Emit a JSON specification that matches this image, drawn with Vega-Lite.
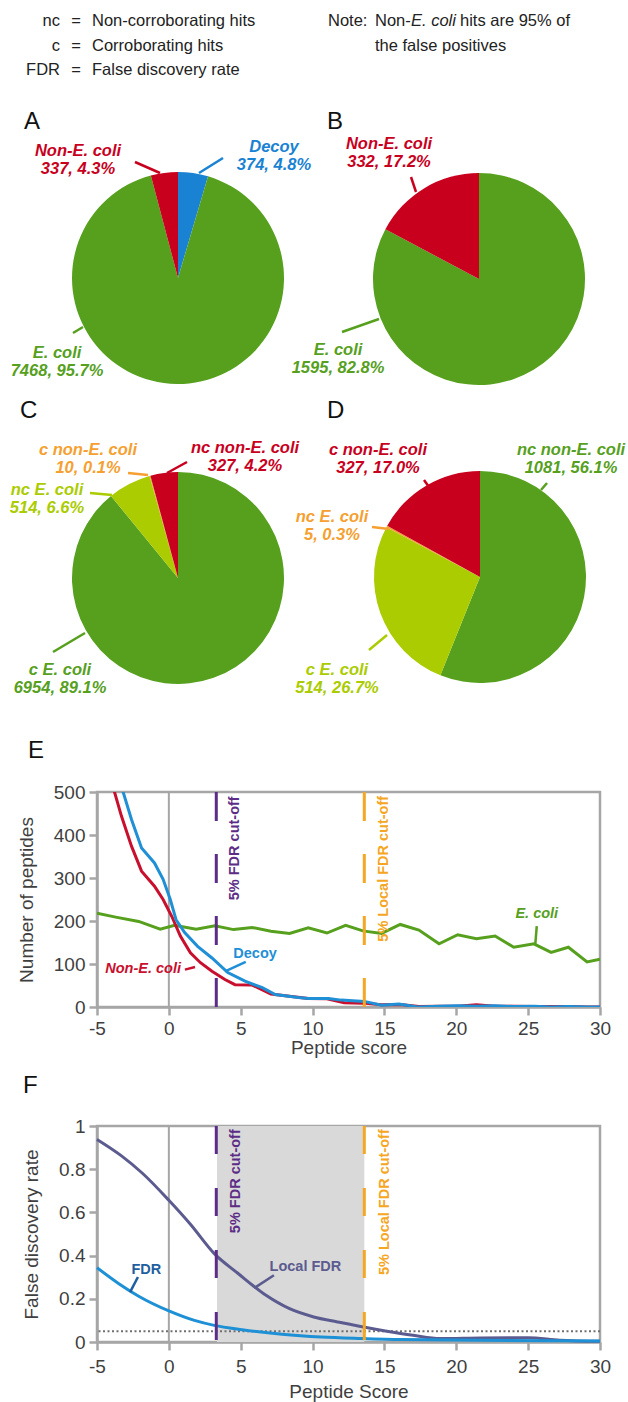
{
"$schema": "https://vega.github.io/schema/vega-lite/v6.json",
"autosize": {"type": "none"},
"padding": {"left": 97, "top": 0, "right": 531, "bottom": 1402},
"bounds": "flush",
"spacing": 119,
"resolve": {"scale": {"color": "independent"}},
"datasets": {
 "slices": [
  {"panel":"A","c":0,"ord":1,"key":"A Decoy","n":374,"label":"Decoy\n374, 4.8%","lk":25,"s":39,"e":40},
  {"panel":"A","c":0,"ord":2,"key":"A E. coli","n":7468,"label":"E. coli\n7468, 95.7%","lk":26,"s":41,"e":42},
  {"panel":"A","c":0,"ord":3,"key":"A Non-E. coli","n":337,"label":"Non-E. coli\n337, 4.3%","lk":24,"s":37,"e":38},
  {"panel":"B","c":1,"ord":1,"key":"B E. coli","n":1595,"label":"E. coli\n1595, 82.8%","lk":28,"s":45,"e":46},
  {"panel":"B","c":1,"ord":2,"key":"B Non-E. coli","n":332,"label":"Non-E. coli\n332, 17.2%","lk":27,"s":43,"e":44},
  {"panel":"C","c":2,"ord":1,"key":"C c E. coli","n":6954,"label":"c E. coli\n6954, 89.1%","lk":32,"s":53,"e":54},
  {"panel":"C","c":2,"ord":2,"key":"C nc E. coli","n":514,"label":"nc E. coli\n514, 6.6%","lk":31,"s":51,"e":52},
  {"panel":"C","c":2,"ord":3,"key":"C c non-E. coli","n":10,"label":"c non-E. coli\n10, 0.1%","lk":29,"s":47,"e":48},
  {"panel":"C","c":2,"ord":4,"key":"C nc non-E. coli","n":327,"label":"nc non-E. coli\n327, 4.2%","lk":30,"s":49,"e":50},
  {"panel":"D","c":3,"ord":1,"key":"D nc non-E. coli","n":1081,"label":"nc non-E. coli\n1081, 56.1%","lk":34,"s":57,"e":58},
  {"panel":"D","c":3,"ord":2,"key":"D c E. coli","n":514,"label":"c E. coli\n514, 26.7%","lk":36,"s":61,"e":62},
  {"panel":"D","c":3,"ord":3,"key":"D nc E. coli","n":5,"label":"nc E. coli\n5, 0.3%","lk":35,"s":59,"e":60},
  {"panel":"D","c":3,"ord":4,"key":"D c non-E. coli","n":327,"label":"c non-E. coli\n327, 17.0%","lk":33,"s":55,"e":56}
 ],
 "header": [
  {"k":4,"t":"nc","role":"abbr"},{"k":5,"t":"c","role":"abbr"},{"k":6,"t":"FDR","role":"abbr"},
  {"k":7,"t":"=","role":"eq"},{"k":8,"t":"=","role":"eq"},{"k":9,"t":"=","role":"eq"},
  {"k":10,"t":"Non-corroborating hits","role":"def"},{"k":11,"t":"Corroborating hits","role":"def"},{"k":12,"t":"False discovery rate","role":"def"},
  {"k":13,"t":"Note:","role":"def"},{"k":14,"t":"Non-","role":"def"},{"k":15,"t":"E. coli","role":"ital"},{"k":16,"t":"hits are 95% of","role":"def"},{"k":17,"t":"the false positives","role":"def"},
  {"k":18,"t":"A","role":"letter"},{"k":19,"t":"B","role":"letter"},{"k":20,"t":"C","role":"letter"},{"k":21,"t":"D","role":"letter"},{"k":22,"t":"E","role":"letter"},{"k":23,"t":"F","role":"letter"}
 ],
 "epep": [
  {"series":"E. coli","score":-5,"count":218},{"series":"E. coli","score":-3.7,"count":209},{"series":"E. coli","score":-2.1,"count":199},{"series":"E. coli","score":-0.6,"count":181},{"series":"E. coli","score":0.4,"count":190},{"series":"E. coli","score":1.9,"count":181},{"series":"E. coli","score":3.2,"count":189},{"series":"E. coli","score":4.5,"count":180},{"series":"E. coli","score":5.8,"count":185},{"series":"E. coli","score":7.1,"count":176},{"series":"E. coli","score":8.4,"count":171},{"series":"E. coli","score":9.7,"count":184},{"series":"E. coli","score":11.0,"count":172},{"series":"E. coli","score":12.3,"count":190},{"series":"E. coli","score":13.5,"count":177},{"series":"E. coli","score":14.8,"count":171},{"series":"E. coli","score":16.1,"count":192},{"series":"E. coli","score":17.4,"count":179},{"series":"E. coli","score":18.8,"count":147},{"series":"E. coli","score":20.1,"count":168},{"series":"E. coli","score":21.4,"count":159},{"series":"E. coli","score":22.7,"count":165},{"series":"E. coli","score":24.0,"count":139},{"series":"E. coli","score":25.4,"count":147},{"series":"E. coli","score":26.6,"count":127},{"series":"E. coli","score":27.8,"count":139},{"series":"E. coli","score":29.1,"count":105},{"series":"E. coli","score":30,"count":111},
  {"series":"Non-E. coli","score":-5,"count":720},{"series":"Non-E. coli","score":-4.3,"count":590},{"series":"Non-E. coli","score":-3.8,"count":502},{"series":"Non-E. coli","score":-3.3,"count":444},{"series":"Non-E. coli","score":-2.6,"count":374},{"series":"Non-E. coli","score":-1.9,"count":316},{"series":"Non-E. coli","score":-1.0,"count":281},{"series":"Non-E. coli","score":-0.4,"count":250},{"series":"Non-E. coli","score":0.2,"count":211},{"series":"Non-E. coli","score":0.8,"count":165},{"series":"Non-E. coli","score":1.5,"count":126},{"series":"Non-E. coli","score":2.2,"count":103},{"series":"Non-E. coli","score":3.0,"count":83},{"series":"Non-E. coli","score":3.9,"count":64},{"series":"Non-E. coli","score":4.6,"count":52},{"series":"Non-E. coli","score":5.8,"count":51},{"series":"Non-E. coli","score":7.1,"count":30},{"series":"Non-E. coli","score":8.4,"count":25},{"series":"Non-E. coli","score":9.7,"count":20},{"series":"Non-E. coli","score":11.0,"count":19},{"series":"Non-E. coli","score":12.2,"count":10},{"series":"Non-E. coli","score":13.5,"count":9},{"series":"Non-E. coli","score":14.8,"count":5},{"series":"Non-E. coli","score":16.1,"count":6},{"series":"Non-E. coli","score":17.4,"count":1},{"series":"Non-E. coli","score":18.8,"count":2},{"series":"Non-E. coli","score":20.1,"count":2},{"series":"Non-E. coli","score":21.4,"count":5},{"series":"Non-E. coli","score":22.7,"count":2},{"series":"Non-E. coli","score":24.0,"count":2},{"series":"Non-E. coli","score":25.4,"count":1},{"series":"Non-E. coli","score":26.6,"count":1},{"series":"Non-E. coli","score":27.8,"count":1},{"series":"Non-E. coli","score":29.1,"count":0},{"series":"Non-E. coli","score":30,"count":0},
  {"series":"Decoy","score":-5,"count":760},{"series":"Decoy","score":-4,"count":590},{"series":"Decoy","score":-3.2,"count":502},{"series":"Decoy","score":-2.6,"count":436},{"series":"Decoy","score":-1.9,"count":370},{"series":"Decoy","score":-1.0,"count":335},{"series":"Decoy","score":-0.4,"count":297},{"series":"Decoy","score":0.1,"count":250},{"series":"Decoy","score":0.5,"count":203},{"series":"Decoy","score":1.1,"count":173},{"series":"Decoy","score":2.0,"count":141},{"series":"Decoy","score":3.0,"count":114},{"series":"Decoy","score":4.1,"count":80},{"series":"Decoy","score":5.3,"count":60},{"series":"Decoy","score":6.5,"count":45},{"series":"Decoy","score":7.4,"count":29},{"series":"Decoy","score":9.0,"count":22},{"series":"Decoy","score":9.7,"count":20},{"series":"Decoy","score":11.1,"count":20},{"series":"Decoy","score":12.0,"count":16},{"series":"Decoy","score":13.6,"count":13},{"series":"Decoy","score":14.8,"count":4},{"series":"Decoy","score":16.0,"count":7},{"series":"Decoy","score":17.3,"count":0},{"series":"Decoy","score":18.8,"count":2},{"series":"Decoy","score":20.1,"count":3},{"series":"Decoy","score":21.4,"count":2},{"series":"Decoy","score":22.7,"count":3},{"series":"Decoy","score":24.0,"count":1},{"series":"Decoy","score":25.4,"count":2},{"series":"Decoy","score":26.6,"count":0},{"series":"Decoy","score":27.8,"count":1},{"series":"Decoy","score":29.1,"count":0},{"series":"Decoy","score":30,"count":0}
 ],
 "ffdr": [
  {"series":"Local FDR","score":-5,"rate":0.938},{"series":"Local FDR","score":-3.34,"rate":0.864},{"series":"Local FDR","score":-1.82,"rate":0.78},{"series":"Local FDR","score":0,"rate":0.656},{"series":"Local FDR","score":1.5,"rate":0.545},{"series":"Local FDR","score":3.16,"rate":0.409},{"series":"Local FDR","score":4.82,"rate":0.317},{"series":"Local FDR","score":6.76,"rate":0.216},{"series":"Local FDR","score":8.4,"rate":0.154},{"series":"Local FDR","score":10.08,"rate":0.116},{"series":"Local FDR","score":11.74,"rate":0.093},{"series":"Local FDR","score":13.54,"rate":0.069},{"series":"Local FDR","score":15.06,"rate":0.051},{"series":"Local FDR","score":17.0,"rate":0.031},{"series":"Local FDR","score":18.9,"rate":0.016},{"series":"Local FDR","score":21.7,"rate":0.019},{"series":"Local FDR","score":25.0,"rate":0.02},{"series":"Local FDR","score":27.2,"rate":0.008},{"series":"Local FDR","score":30,"rate":0.003},
  {"series":"FDR","score":-5,"rate":0.344},{"series":"FDR","score":-3.48,"rate":0.27},{"series":"FDR","score":-2.1,"rate":0.212},{"series":"FDR","score":0,"rate":0.144},{"series":"FDR","score":1.78,"rate":0.1},{"series":"FDR","score":3.16,"rate":0.077},{"series":"FDR","score":5.1,"rate":0.057},{"series":"FDR","score":7.87,"rate":0.036},{"series":"FDR","score":10.6,"rate":0.023},{"series":"FDR","score":13.4,"rate":0.016},{"series":"FDR","score":16.2,"rate":0.011},{"series":"FDR","score":21.7,"rate":0.008},{"series":"FDR","score":30,"rate":0.005}
 ]
},
"vconcat": [
 {
  "width": 531, "height": 673, "view": {"stroke": null},
  "layer": [
   {
    "data": {"name": "slices"},
    "transform": [{"stack": "n", "groupby": ["panel"], "sort": [{"field": "ord", "order": "ascending"}], "offset": "normalize", "as": ["t0", "t1"]}],
    "mark": {"type": "arc", "outerRadius": 106},
    "encoding": {
     "x": {"field": "c", "type": "quantitative", "axis": null, "scale": {"type": "linear", "nice": false, "zero": false, "domain": [0,1,2,3,4,5,6,7,8,9,10,11,12,13,14,15,16,17,18,19,20,21,22,23,24,25,26,27,28,29,30,31,32,33,34,35,36,37,38,39,40,41,42,43,44,45,46,47,48,49,50,51,52,53,54,55,56,57,58,59,60,61,62], "range": [81,382,81,383,-37,-37,-37,-21,-21,-21,-5,-5,-5,231,278,314,363,278,-73,230,-77,230,-69,-74,-19,177,-40,292,241,-9,148,-50,-37,281,474,235,240,38,63,102,126,-24,-14,314,319,245,282,31,51,90,70,-7,15,-44,-12,327,332,450,444,275,292,272,290]}},
     "y": {"field": "c", "type": "quantitative", "axis": null, "scale": {"type": "linear", "nice": false, "zero": false, "domain": [0,1,2,3,4,5,6,7,8,9,10,11,12,13,14,15,16,17,18,19,20,21,22,23,24,25,26,27,28,29,30,31,32,33,34,35,36,37,38,39,40,41,42,43,44,45,46,47,48,49,50,51,52,53,54,55,56,57,58,59,60,61,62], "range": [278,279,578,577,26,51,75,26,51,75,26,51,75,26,26,26,26,51,129,129,418,418,758,1093,156,152,358,149,355,455,453,495,675,455,455,522,675,162,173,173,158,333,327,177,192,332,319,473,475,462,473,493,495,652,633,480,487,483,490,527,529,650,635]}},
     "theta": {"field": "t0", "type": "quantitative", "stack": null, "scale": {"domain": [0, 1], "range": [0, 6.283185307]}},
     "theta2": {"field": "t1"},
     "color": {"field": "key", "type": "nominal", "legend": null, "scale": {"domain": ["A Decoy","A E. coli","A Non-E. coli","B E. coli","B Non-E. coli","C c E. coli","C nc E. coli","C c non-E. coli","C nc non-E. coli","D nc non-E. coli","D c E. coli","D nc E. coli","D c non-E. coli"], "range": ["#1a82d2","#56a01e","#c8001e","#56a01e","#c8001e","#56a01e","#aacc00","#f5a030","#c8001e","#56a01e","#aacc00","#f5a030","#c8001e"]}}
    }
   },
   {
    "data": {"name": "slices"},
    "mark": {"type": "rule", "strokeWidth": 2.5},
    "encoding": {
     "x": {"field": "s", "type": "quantitative", "axis": null, "scale": {"type": "linear", "nice": false, "zero": false, "domain": [0,1,2,3,4,5,6,7,8,9,10,11,12,13,14,15,16,17,18,19,20,21,22,23,24,25,26,27,28,29,30,31,32,33,34,35,36,37,38,39,40,41,42,43,44,45,46,47,48,49,50,51,52,53,54,55,56,57,58,59,60,61,62], "range": [81,382,81,383,-37,-37,-37,-21,-21,-21,-5,-5,-5,231,278,314,363,278,-73,230,-77,230,-69,-74,-19,177,-40,292,241,-9,148,-50,-37,281,474,235,240,38,63,102,126,-24,-14,314,319,245,282,31,51,90,70,-7,15,-44,-12,327,332,450,444,275,292,272,290]}},
     "x2": {"field": "e"},
     "y": {"field": "s", "type": "quantitative", "axis": null, "scale": {"type": "linear", "nice": false, "zero": false, "domain": [0,1,2,3,4,5,6,7,8,9,10,11,12,13,14,15,16,17,18,19,20,21,22,23,24,25,26,27,28,29,30,31,32,33,34,35,36,37,38,39,40,41,42,43,44,45,46,47,48,49,50,51,52,53,54,55,56,57,58,59,60,61,62], "range": [278,279,578,577,26,51,75,26,51,75,26,51,75,26,26,26,26,51,129,129,418,418,758,1093,156,152,358,149,355,455,453,495,675,455,455,522,675,162,173,173,158,333,327,177,192,332,319,473,475,462,473,493,495,652,633,480,487,483,490,527,529,650,635]}},
     "y2": {"field": "e"},
     "color": {"field": "key", "type": "nominal", "legend": null, "scale": {"domain": ["A Decoy","A E. coli","A Non-E. coli","B E. coli","B Non-E. coli","C c E. coli","C nc E. coli","C c non-E. coli","C nc non-E. coli","D nc non-E. coli","D c E. coli","D nc E. coli","D c non-E. coli"], "range": ["#1a82d2","#56a01e","#c8001e","#56a01e","#c8001e","#56a01e","#aacc00","#f5a030","#c8001e","#56a01e","#aacc00","#f5a030","#c8001e"]}}
    }
   },
   {
    "data": {"name": "slices"},
    "mark": {"type": "text", "align": "center", "baseline": "alphabetic", "fontSize": 16.5, "fontWeight": "bold", "fontStyle": "italic", "lineBreak": "\n", "lineHeight": 17.5},
    "encoding": {
     "x": {"field": "lk", "type": "quantitative", "axis": null, "scale": {"type": "linear", "nice": false, "zero": false, "domain": [0,1,2,3,4,5,6,7,8,9,10,11,12,13,14,15,16,17,18,19,20,21,22,23,24,25,26,27,28,29,30,31,32,33,34,35,36,37,38,39,40,41,42,43,44,45,46,47,48,49,50,51,52,53,54,55,56,57,58,59,60,61,62], "range": [81,382,81,383,-37,-37,-37,-21,-21,-21,-5,-5,-5,231,278,314,363,278,-73,230,-77,230,-69,-74,-19,177,-40,292,241,-9,148,-50,-37,281,474,235,240,38,63,102,126,-24,-14,314,319,245,282,31,51,90,70,-7,15,-44,-12,327,332,450,444,275,292,272,290]}},
     "y": {"field": "lk", "type": "quantitative", "axis": null, "scale": {"type": "linear", "nice": false, "zero": false, "domain": [0,1,2,3,4,5,6,7,8,9,10,11,12,13,14,15,16,17,18,19,20,21,22,23,24,25,26,27,28,29,30,31,32,33,34,35,36,37,38,39,40,41,42,43,44,45,46,47,48,49,50,51,52,53,54,55,56,57,58,59,60,61,62], "range": [278,279,578,577,26,51,75,26,51,75,26,51,75,26,26,26,26,51,129,129,418,418,758,1093,156,152,358,149,355,455,453,495,675,455,455,522,675,162,173,173,158,333,327,177,192,332,319,473,475,462,473,493,495,652,633,480,487,483,490,527,529,650,635]}},
     "text": {"field": "label"},
     "color": {"field": "key", "type": "nominal", "legend": null, "scale": {"domain": ["A Decoy","A E. coli","A Non-E. coli","B E. coli","B Non-E. coli","C c E. coli","C nc E. coli","C c non-E. coli","C nc non-E. coli","D nc non-E. coli","D c E. coli","D nc E. coli","D c non-E. coli"], "range": ["#1a82d2","#56a01e","#c8001e","#56a01e","#c8001e","#56a01e","#aacc00","#f5a030","#c8001e","#56a01e","#aacc00","#f5a030","#c8001e"]}}
    }
   },
   {
    "data": {"name": "header"},
    "transform": [{"filter": "datum.role === 'abbr'"}],
    "mark": {"type": "text", "align": "right", "baseline": "alphabetic", "fontSize": 16.5, "color": "#222222"},
    "encoding": {
     "x": {"field": "k", "type": "quantitative", "axis": null, "scale": {"type": "linear", "nice": false, "zero": false, "domain": [0,1,2,3,4,5,6,7,8,9,10,11,12,13,14,15,16,17,18,19,20,21,22,23,24,25,26,27,28,29,30,31,32,33,34,35,36,37,38,39,40,41,42,43,44,45,46,47,48,49,50,51,52,53,54,55,56,57,58,59,60,61,62], "range": [81,382,81,383,-37,-37,-37,-21,-21,-21,-5,-5,-5,231,278,314,363,278,-73,230,-77,230,-69,-74,-19,177,-40,292,241,-9,148,-50,-37,281,474,235,240,38,63,102,126,-24,-14,314,319,245,282,31,51,90,70,-7,15,-44,-12,327,332,450,444,275,292,272,290]}},
     "y": {"field": "k", "type": "quantitative", "axis": null, "scale": {"type": "linear", "nice": false, "zero": false, "domain": [0,1,2,3,4,5,6,7,8,9,10,11,12,13,14,15,16,17,18,19,20,21,22,23,24,25,26,27,28,29,30,31,32,33,34,35,36,37,38,39,40,41,42,43,44,45,46,47,48,49,50,51,52,53,54,55,56,57,58,59,60,61,62], "range": [278,279,578,577,26,51,75,26,51,75,26,51,75,26,26,26,26,51,129,129,418,418,758,1093,156,152,358,149,355,455,453,495,675,455,455,522,675,162,173,173,158,333,327,177,192,332,319,473,475,462,473,493,495,652,633,480,487,483,490,527,529,650,635]}},
     "text": {"field": "t"}
    }
   },
   {
    "data": {"name": "header"},
    "transform": [{"filter": "datum.role === 'eq'"}],
    "mark": {"type": "text", "align": "center", "baseline": "alphabetic", "fontSize": 16.5, "color": "#222222"},
    "encoding": {
     "x": {"field": "k", "type": "quantitative", "axis": null, "scale": {"type": "linear", "nice": false, "zero": false, "domain": [0,1,2,3,4,5,6,7,8,9,10,11,12,13,14,15,16,17,18,19,20,21,22,23,24,25,26,27,28,29,30,31,32,33,34,35,36,37,38,39,40,41,42,43,44,45,46,47,48,49,50,51,52,53,54,55,56,57,58,59,60,61,62], "range": [81,382,81,383,-37,-37,-37,-21,-21,-21,-5,-5,-5,231,278,314,363,278,-73,230,-77,230,-69,-74,-19,177,-40,292,241,-9,148,-50,-37,281,474,235,240,38,63,102,126,-24,-14,314,319,245,282,31,51,90,70,-7,15,-44,-12,327,332,450,444,275,292,272,290]}},
     "y": {"field": "k", "type": "quantitative", "axis": null, "scale": {"type": "linear", "nice": false, "zero": false, "domain": [0,1,2,3,4,5,6,7,8,9,10,11,12,13,14,15,16,17,18,19,20,21,22,23,24,25,26,27,28,29,30,31,32,33,34,35,36,37,38,39,40,41,42,43,44,45,46,47,48,49,50,51,52,53,54,55,56,57,58,59,60,61,62], "range": [278,279,578,577,26,51,75,26,51,75,26,51,75,26,26,26,26,51,129,129,418,418,758,1093,156,152,358,149,355,455,453,495,675,455,455,522,675,162,173,173,158,333,327,177,192,332,319,473,475,462,473,493,495,652,633,480,487,483,490,527,529,650,635]}},
     "text": {"field": "t"}
    }
   },
   {
    "data": {"name": "header"},
    "transform": [{"filter": "datum.role === 'def'"}],
    "mark": {"type": "text", "align": "left", "baseline": "alphabetic", "fontSize": 16.5, "color": "#222222"},
    "encoding": {
     "x": {"field": "k", "type": "quantitative", "axis": null, "scale": {"type": "linear", "nice": false, "zero": false, "domain": [0,1,2,3,4,5,6,7,8,9,10,11,12,13,14,15,16,17,18,19,20,21,22,23,24,25,26,27,28,29,30,31,32,33,34,35,36,37,38,39,40,41,42,43,44,45,46,47,48,49,50,51,52,53,54,55,56,57,58,59,60,61,62], "range": [81,382,81,383,-37,-37,-37,-21,-21,-21,-5,-5,-5,231,278,314,363,278,-73,230,-77,230,-69,-74,-19,177,-40,292,241,-9,148,-50,-37,281,474,235,240,38,63,102,126,-24,-14,314,319,245,282,31,51,90,70,-7,15,-44,-12,327,332,450,444,275,292,272,290]}},
     "y": {"field": "k", "type": "quantitative", "axis": null, "scale": {"type": "linear", "nice": false, "zero": false, "domain": [0,1,2,3,4,5,6,7,8,9,10,11,12,13,14,15,16,17,18,19,20,21,22,23,24,25,26,27,28,29,30,31,32,33,34,35,36,37,38,39,40,41,42,43,44,45,46,47,48,49,50,51,52,53,54,55,56,57,58,59,60,61,62], "range": [278,279,578,577,26,51,75,26,51,75,26,51,75,26,26,26,26,51,129,129,418,418,758,1093,156,152,358,149,355,455,453,495,675,455,455,522,675,162,173,173,158,333,327,177,192,332,319,473,475,462,473,493,495,652,633,480,487,483,490,527,529,650,635]}},
     "text": {"field": "t"}
    }
   },
   {
    "data": {"name": "header"},
    "transform": [{"filter": "datum.role === 'ital'"}],
    "mark": {"type": "text", "align": "left", "baseline": "alphabetic", "fontSize": 16.5, "fontStyle": "italic", "color": "#222222"},
    "encoding": {
     "x": {"field": "k", "type": "quantitative", "axis": null, "scale": {"type": "linear", "nice": false, "zero": false, "domain": [0,1,2,3,4,5,6,7,8,9,10,11,12,13,14,15,16,17,18,19,20,21,22,23,24,25,26,27,28,29,30,31,32,33,34,35,36,37,38,39,40,41,42,43,44,45,46,47,48,49,50,51,52,53,54,55,56,57,58,59,60,61,62], "range": [81,382,81,383,-37,-37,-37,-21,-21,-21,-5,-5,-5,231,278,314,363,278,-73,230,-77,230,-69,-74,-19,177,-40,292,241,-9,148,-50,-37,281,474,235,240,38,63,102,126,-24,-14,314,319,245,282,31,51,90,70,-7,15,-44,-12,327,332,450,444,275,292,272,290]}},
     "y": {"field": "k", "type": "quantitative", "axis": null, "scale": {"type": "linear", "nice": false, "zero": false, "domain": [0,1,2,3,4,5,6,7,8,9,10,11,12,13,14,15,16,17,18,19,20,21,22,23,24,25,26,27,28,29,30,31,32,33,34,35,36,37,38,39,40,41,42,43,44,45,46,47,48,49,50,51,52,53,54,55,56,57,58,59,60,61,62], "range": [278,279,578,577,26,51,75,26,51,75,26,51,75,26,26,26,26,51,129,129,418,418,758,1093,156,152,358,149,355,455,453,495,675,455,455,522,675,162,173,173,158,333,327,177,192,332,319,473,475,462,473,493,495,652,633,480,487,483,490,527,529,650,635]}},
     "text": {"field": "t"}
    }
   },
   {
    "data": {"name": "header"},
    "transform": [{"filter": "datum.role === 'letter'"}],
    "mark": {"type": "text", "align": "left", "baseline": "alphabetic", "fontSize": 24, "color": "#111111"},
    "encoding": {
     "x": {"field": "k", "type": "quantitative", "axis": null, "scale": {"type": "linear", "nice": false, "zero": false, "domain": [0,1,2,3,4,5,6,7,8,9,10,11,12,13,14,15,16,17,18,19,20,21,22,23,24,25,26,27,28,29,30,31,32,33,34,35,36,37,38,39,40,41,42,43,44,45,46,47,48,49,50,51,52,53,54,55,56,57,58,59,60,61,62], "range": [81,382,81,383,-37,-37,-37,-21,-21,-21,-5,-5,-5,231,278,314,363,278,-73,230,-77,230,-69,-74,-19,177,-40,292,241,-9,148,-50,-37,281,474,235,240,38,63,102,126,-24,-14,314,319,245,282,31,51,90,70,-7,15,-44,-12,327,332,450,444,275,292,272,290]}},
     "y": {"field": "k", "type": "quantitative", "axis": null, "scale": {"type": "linear", "nice": false, "zero": false, "domain": [0,1,2,3,4,5,6,7,8,9,10,11,12,13,14,15,16,17,18,19,20,21,22,23,24,25,26,27,28,29,30,31,32,33,34,35,36,37,38,39,40,41,42,43,44,45,46,47,48,49,50,51,52,53,54,55,56,57,58,59,60,61,62], "range": [278,279,578,577,26,51,75,26,51,75,26,51,75,26,26,26,26,51,129,129,418,418,758,1093,156,152,358,149,355,455,453,495,675,455,455,522,675,162,173,173,158,333,327,177,192,332,319,473,475,462,473,493,495,652,633,480,487,483,490,527,529,650,635]}},
     "text": {"field": "t"}
    }
   }
  ]
 },
 {
  "width": 503, "height": 215,
  "layer": [
   {"data": {"values": [{}]}, "mark": {"type": "rule", "color": "#a6a6a6", "strokeWidth": 2}, "encoding": {"x": {"datum": 0, "type": "quantitative"}}},
   {
    "data": {"name": "epep"},
    "mark": {"type": "line", "strokeWidth": 3, "clip": true},
    "encoding": {
     "x": {"field": "score", "type": "quantitative", "scale": {"domain": [-5, 30], "nice": false, "zero": false}, "axis": {"title": "Peptide score", "values": [-5,0,5,10,15,20,25,30], "labelExpr": "'' + datum.value", "labelFlush": false, "labelPadding": 4, "titlePadding": 0}},
     "y": {"field": "count", "type": "quantitative", "scale": {"domain": [0, 500], "nice": false}, "axis": {"title": "Number of peptides", "values": [0,100,200,300,400,500]}},
     "color": {"field": "series", "type": "nominal", "legend": null, "scale": {"domain": ["E. coli", "Non-E. coli", "Decoy"], "range": ["#56a01e", "#c8102e", "#1f8fd6"]}}
    }
   },
   {"data": {"values": [{}]}, "mark": {"type": "rule", "color": "#5c2d86", "strokeWidth": 3, "strokeDash": [29, 33]}, "encoding": {"x": {"datum": 3.3, "type": "quantitative"}}},
   {"data": {"values": [{}]}, "mark": {"type": "rule", "color": "#f5a623", "strokeWidth": 3, "strokeDash": [29, 33]}, "encoding": {"x": {"datum": 13.6, "type": "quantitative"}}},
   {"data": {"values": [{}]}, "mark": {"type": "text", "text": "5% FDR cut-off", "angle": 270, "align": "right", "baseline": "alphabetic", "fontSize": 14.5, "fontWeight": "bold", "color": "#5c2d86"}, "encoding": {"x": {"datum": 4.85, "type": "quantitative"}, "y": {"datum": 490, "type": "quantitative"}}},
   {"data": {"values": [{}]}, "mark": {"type": "text", "text": "5% Local FDR cut-off", "angle": 270, "align": "right", "baseline": "alphabetic", "fontSize": 14.5, "fontWeight": "bold", "color": "#f5a623"}, "encoding": {"x": {"datum": 15.24, "type": "quantitative"}, "y": {"datum": 491, "type": "quantitative"}}},
   {"data": {"values": [{}]}, "mark": {"type": "text", "text": "E. coli", "align": "center", "baseline": "alphabetic", "fontSize": 14.5, "fontWeight": "bold", "fontStyle": "italic", "color": "#56a01e"}, "encoding": {"x": {"datum": 25.6, "type": "quantitative"}, "y": {"datum": 208, "type": "quantitative"}}},
   {"data": {"values": [{}]}, "mark": {"type": "rule", "color": "#56a01e", "strokeWidth": 2.5}, "encoding": {"x": {"datum": 25.6, "type": "quantitative"}, "y": {"datum": 188, "type": "quantitative"}, "x2": {"datum": 25.5}, "y2": {"datum": 147}}},
   {"data": {"values": [{}]}, "mark": {"type": "text", "text": "Decoy", "align": "center", "baseline": "alphabetic", "fontSize": 14.5, "fontWeight": "bold", "color": "#1f8fd6"}, "encoding": {"x": {"datum": 6.0, "type": "quantitative"}, "y": {"datum": 113, "type": "quantitative"}}},
   {"data": {"values": [{}]}, "mark": {"type": "rule", "color": "#1f8fd6", "strokeWidth": 2.5}, "encoding": {"x": {"datum": 5.35, "type": "quantitative"}, "y": {"datum": 105, "type": "quantitative"}, "x2": {"datum": 3.91}, "y2": {"datum": 83}}},
   {"data": {"values": [{}]}, "mark": {"type": "text", "text": "Non-E. coli", "align": "center", "baseline": "alphabetic", "fontSize": 14.5, "fontWeight": "bold", "fontStyle": "italic", "color": "#c8102e"}, "encoding": {"x": {"datum": -1.79, "type": "quantitative"}, "y": {"datum": 78, "type": "quantitative"}}},
   {"data": {"values": [{}]}, "mark": {"type": "rule", "color": "#c8102e", "strokeWidth": 2.5}, "encoding": {"x": {"datum": 1.12, "type": "quantitative"}, "y": {"datum": 87, "type": "quantitative"}, "x2": {"datum": 1.82}, "y2": {"datum": 93}}}
  ]
 },
 {
  "width": 503, "height": 216,
  "layer": [
   {"data": {"values": [{}]}, "mark": {"type": "rect", "color": "#d9d9d9"}, "encoding": {"x": {"datum": 3.35, "type": "quantitative"}, "x2": {"datum": 13.6}, "y": {"datum": 0, "type": "quantitative"}, "y2": {"datum": 1}}},
   {"data": {"values": [{}]}, "mark": {"type": "rule", "color": "#a6a6a6", "strokeWidth": 2}, "encoding": {"x": {"datum": 0, "type": "quantitative"}}},
   {"data": {"values": [{}]}, "mark": {"type": "rule", "color": "#707070", "strokeWidth": 2, "strokeDash": [2, 2.5]}, "encoding": {"y": {"datum": 0.05, "type": "quantitative"}}},
   {
    "data": {"name": "ffdr"},
    "mark": {"type": "line", "strokeWidth": 3, "interpolate": "monotone"},
    "encoding": {
     "x": {"field": "score", "type": "quantitative", "scale": {"domain": [-5, 30], "nice": false, "zero": false}, "axis": {"title": "Peptide Score", "values": [-5,0,5,10,15,20,25,30], "labelExpr": "'' + datum.value", "labelFlush": false, "labelPadding": 7, "titlePadding": 6}},
     "y": {"field": "rate", "type": "quantitative", "scale": {"domain": [0, 1], "nice": false}, "axis": {"title": "False discovery rate", "values": [0,0.2,0.4,0.6,0.8,1], "labelExpr": "'' + datum.value"}},
     "color": {"field": "series", "type": "nominal", "legend": null, "scale": {"domain": ["Local FDR", "FDR"], "range": ["#5b5b90", "#1e90d5"]}}
    }
   },
   {"data": {"values": [{}]}, "mark": {"type": "rule", "color": "#5c2d86", "strokeWidth": 3, "strokeDash": [28, 34]}, "encoding": {"x": {"datum": 3.3, "type": "quantitative"}}},
   {"data": {"values": [{}]}, "mark": {"type": "rule", "color": "#f5a623", "strokeWidth": 3, "strokeDash": [28, 34]}, "encoding": {"x": {"datum": 13.6, "type": "quantitative"}}},
   {"data": {"values": [{}]}, "mark": {"type": "text", "text": "5% FDR cut-off", "angle": 270, "align": "right", "baseline": "alphabetic", "fontSize": 14.5, "fontWeight": "bold", "color": "#5c2d86"}, "encoding": {"x": {"datum": 4.96, "type": "quantitative"}, "y": {"datum": 0.985, "type": "quantitative"}}},
   {"data": {"values": [{}]}, "mark": {"type": "text", "text": "5% Local FDR cut-off", "angle": 270, "align": "right", "baseline": "alphabetic", "fontSize": 14.5, "fontWeight": "bold", "color": "#f5a623"}, "encoding": {"x": {"datum": 15.34, "type": "quantitative"}, "y": {"datum": 0.985, "type": "quantitative"}}},
   {"data": {"values": [{}]}, "mark": {"type": "text", "text": "FDR", "align": "center", "baseline": "alphabetic", "fontSize": 14.5, "fontWeight": "bold", "color": "#1f5f9f"}, "encoding": {"x": {"datum": -1.57, "type": "quantitative"}, "y": {"datum": 0.317, "type": "quantitative"}}},
   {"data": {"values": [{}]}, "mark": {"type": "rule", "color": "#1f5f9f", "strokeWidth": 2.5}, "encoding": {"x": {"datum": -2.15, "type": "quantitative"}, "y": {"datum": 0.301, "type": "quantitative"}, "x2": {"datum": -2.7}, "y2": {"datum": 0.231}}},
   {"data": {"values": [{}]}, "mark": {"type": "text", "text": "Local FDR", "align": "center", "baseline": "alphabetic", "fontSize": 14.5, "fontWeight": "bold", "color": "#5b5b90"}, "encoding": {"x": {"datum": 9.5, "type": "quantitative"}, "y": {"datum": 0.331, "type": "quantitative"}}},
   {"data": {"values": [{}]}, "mark": {"type": "rule", "color": "#5b5b90", "strokeWidth": 2.5}, "encoding": {"x": {"datum": 7.31, "type": "quantitative"}, "y": {"datum": 0.309, "type": "quantitative"}, "x2": {"datum": 6.07}, "y2": {"datum": 0.255}}}
  ]
 }
],
"config": {
 "font": "Liberation Sans",
 "view": {"stroke": "#a6a6a6", "strokeWidth": 2.5},
 "axis": {"grid": false, "domainColor": "#a6a6a6", "domainWidth": 2.5, "tickColor": "#a6a6a6", "tickWidth": 2.5, "tickSize": 8, "labelFont": "Liberation Sans", "labelFontSize": 19, "labelColor": "#3f3f3f", "labelPadding": 4, "titleFont": "Liberation Sans", "titleFontSize": 19, "titleFontWeight": "normal", "titleColor": "#3f3f3f"},
 "axisY": {"titlePadding": 17},
 "axisX": {"titlePadding": 4}
}
}
